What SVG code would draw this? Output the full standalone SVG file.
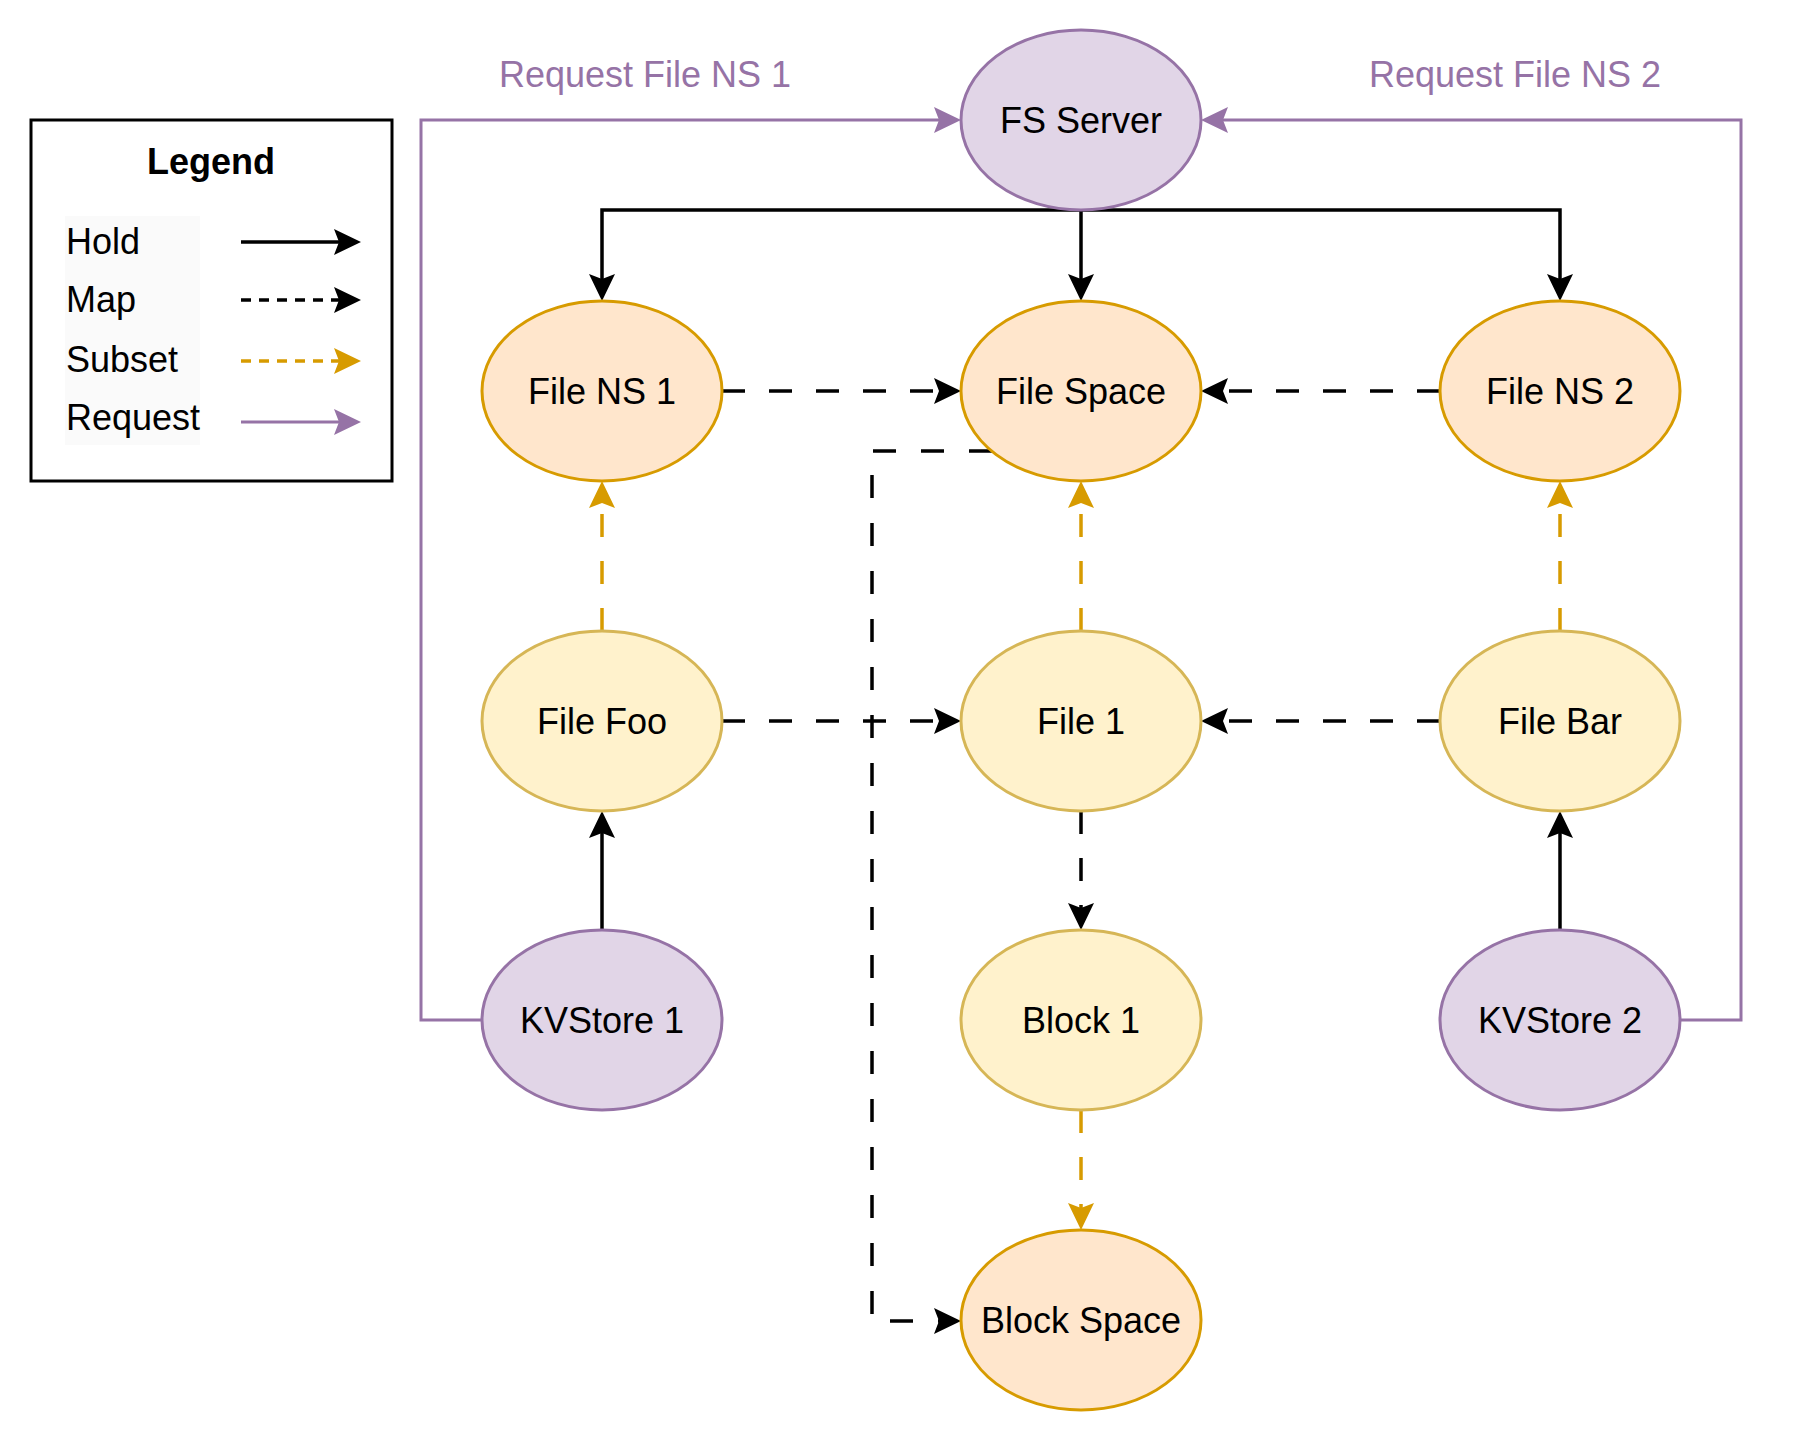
<svg xmlns="http://www.w3.org/2000/svg" width="1797" height="1443" viewBox="0 0 1797 1443">
<style>
.t{font-family:"Liberation Sans",Arial,Helvetica,sans-serif;font-size:36px;fill:#000;text-anchor:middle}
.ls{font-family:"Liberation Sans",Arial,Helvetica,sans-serif;font-size:36px;fill:#000;text-anchor:start}
.lb{font-weight:bold}
.rl{fill:#9673a6}
.purple{fill:#e1d5e7;stroke:#9673a6;stroke-width:3}
.orange{fill:#ffe6cc;stroke:#d79b00;stroke-width:3}
.yellow{fill:#fff2cc;stroke:#d6b656;stroke-width:3}
.hold{fill:none;stroke:#000;stroke-width:3.5}
.map{fill:none;stroke:#000;stroke-width:3.5;stroke-dasharray:23 24}
.sub{fill:none;stroke:#d79b00;stroke-width:3.5;stroke-dasharray:23 24}
.req{fill:none;stroke:#9673a6;stroke-width:3}
.lmap{fill:none;stroke:#000;stroke-width:3.5;stroke-dasharray:10 8}
.lsub{fill:none;stroke:#d79b00;stroke-width:3.5;stroke-dasharray:10 8}
</style>
<defs>
<marker id="aB" markerUnits="userSpaceOnUse" markerWidth="28" markerHeight="27" refX="5" refY="13" orient="auto" overflow="visible"><path d="M0,0 L27,13 L0,26 L5,13 Z" fill="#000"/></marker>
<marker id="aO" markerUnits="userSpaceOnUse" markerWidth="28" markerHeight="27" refX="5" refY="13" orient="auto" overflow="visible"><path d="M0,0 L27,13 L0,26 L5,13 Z" fill="#d79b00"/></marker>
<marker id="aP" markerUnits="userSpaceOnUse" markerWidth="28" markerHeight="27" refX="5" refY="13" orient="auto" overflow="visible"><path d="M0,0 L27,13 L0,26 L5,13 Z" fill="#9673a6"/></marker>
</defs>
<rect width="1797" height="1443" fill="#fff"/>
<g id="legend">
<rect x="31" y="120" width="361" height="361" fill="#fff" stroke="#000" stroke-width="3"/>
<rect x="65" y="216" width="135" height="229" fill="#fafafa"/>
<text class="t lb" x="211" y="174">Legend</text>
<text class="ls" x="66" y="254">Hold</text>
<text class="ls" x="66" y="312">Map</text>
<text class="ls" x="66" y="372">Subset</text>
<text class="ls" x="66" y="430">Request</text>
<path class="hold" d="M241,242 L339,242" marker-end="url(#aB)"/>
<path class="lmap" d="M241,300 L339,300" marker-end="url(#aB)"/>
<path class="lsub" d="M241,361 L339,361" marker-end="url(#aO)"/>
<path class="req" d="M241,422 L339,422" marker-end="url(#aP)"/>
</g>
<g id="connectors">
<path class="hold" d="M1081,210 L602,210 L602,279" marker-end="url(#aB)"/>
<path class="hold" d="M1081,210 L1081,279" marker-end="url(#aB)"/>
<path class="hold" d="M1081,210 L1560,210 L1560,279" marker-end="url(#aB)"/>
<path class="map" d="M722,391 L939,391" marker-end="url(#aB)"/>
<path class="map" d="M1440,391 L1223,391" marker-end="url(#aB)"/>
<path class="sub" d="M602,631 L602,503" marker-end="url(#aO)"/>
<path class="sub" d="M1081,631 L1081,503" marker-end="url(#aO)"/>
<path class="sub" d="M1560,631 L1560,503" marker-end="url(#aO)"/>
<path class="map" d="M722,721 L939,721" marker-end="url(#aB)"/>
<path class="map" d="M1440,721 L1223,721" marker-end="url(#aB)"/>
<path class="hold" d="M602,930 L602,833" marker-end="url(#aB)"/>
<path class="hold" d="M1560,930 L1560,833" marker-end="url(#aB)"/>
<path class="map" d="M1081,811 L1081,908" marker-end="url(#aB)"/>
<path class="sub" d="M1081,1110 L1081,1208" marker-end="url(#aO)"/>
<path class="map" style="stroke-dasharray:23 25" d="M992,451 L872,451 L872,1321 L939,1321" marker-end="url(#aB)"/>
<path class="req" d="M482,1020 L421,1020 L421,120 L939,120" marker-end="url(#aP)"/>
<path class="req" d="M1680,1020 L1741,1020 L1741,120 L1223,120" marker-end="url(#aP)"/>
<text class="t rl" x="645" y="87">Request File NS 1</text>
<text class="t rl" x="1515" y="87">Request File NS 2</text>
</g>
<g id="fs-server"><ellipse class="purple" cx="1081" cy="120" rx="120" ry="90"/><text class="t" x="1081" y="133">FS Server</text></g>
<g id="file-ns-1"><ellipse class="orange" cx="602" cy="391" rx="120" ry="90"/><text class="t" x="602" y="404">File NS 1</text></g>
<g id="file-space"><ellipse class="orange" cx="1081" cy="391" rx="120" ry="90"/><text class="t" x="1081" y="404">File Space</text></g>
<g id="file-ns-2"><ellipse class="orange" cx="1560" cy="391" rx="120" ry="90"/><text class="t" x="1560" y="404">File NS 2</text></g>
<g id="file-foo"><ellipse class="yellow" cx="602" cy="721" rx="120" ry="90"/><text class="t" x="602" y="734">File Foo</text></g>
<g id="file-1"><ellipse class="yellow" cx="1081" cy="721" rx="120" ry="90"/><text class="t" x="1081" y="734">File 1</text></g>
<g id="file-bar"><ellipse class="yellow" cx="1560" cy="721" rx="120" ry="90"/><text class="t" x="1560" y="734">File Bar</text></g>
<g id="kvstore-1"><ellipse class="purple" cx="602" cy="1020" rx="120" ry="90"/><text class="t" x="602" y="1033">KVStore 1</text></g>
<g id="block-1"><ellipse class="yellow" cx="1081" cy="1020" rx="120" ry="90"/><text class="t" x="1081" y="1033">Block 1</text></g>
<g id="kvstore-2"><ellipse class="purple" cx="1560" cy="1020" rx="120" ry="90"/><text class="t" x="1560" y="1033">KVStore 2</text></g>
<g id="block-space"><ellipse class="orange" cx="1081" cy="1320" rx="120" ry="90"/><text class="t" x="1081" y="1333">Block Space</text></g>
</svg>
